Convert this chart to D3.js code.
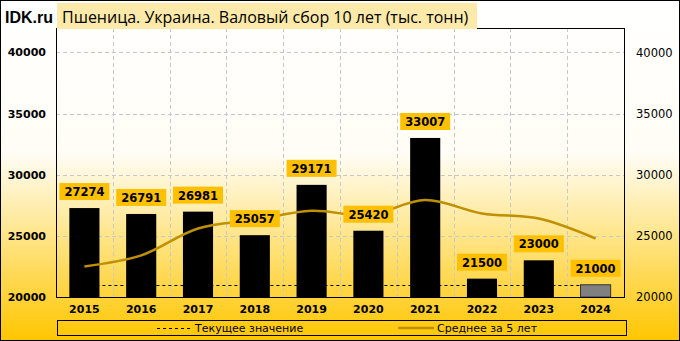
<!DOCTYPE html>
<html lang="ru">
<head>
<meta charset="UTF-8">
<title>Пшеница. Украина</title>
<style>
  body{ margin:0; }
  svg{ font-family: "DejaVu Sans", sans-serif; }
</style>
</head>
<body>
<svg id="chart" width="680" height="341"></svg>
<script src="https://cdn.jsdelivr.net/npm/d3@7"></script>
<script>
  "use strict";

  var years = ["2015","2016","2017","2018","2019","2020","2021","2022","2023","2024"];
  var harvest = [27274,26791,26981,25057,29171,25420,33007,21500,23000,21000];
  var avg5 = [22500,23400,25600,26300,27055,26684,27927,26831,26420,24785];
  var current = 21000;
  var yTicks = [20000,25000,30000,35000,40000];

  var W = 680, H = 341,
      pLeft = 56, pRight = 624, pTop = 28, pBottom = 297;

  var svg = d3.select("#chart");
  var defs = svg.append("defs");
  var grad = defs.append("linearGradient").attr("id","bg")
    .attr("x1",0).attr("y1",0).attr("x2",0).attr("y2",1);
  grad.append("stop").attr("offset","0%").attr("stop-color","#ffffff");
  grad.append("stop").attr("offset","45%").attr("stop-color","#fffdf5");
  grad.append("stop").attr("offset","100%").attr("stop-color","#ffc600");

  svg.append("rect").attr("x",0.5).attr("y",0.5).attr("width",W-1).attr("height",H-1)
    .attr("fill","url(#bg)").attr("stroke","#000");

  var x = d3.scaleBand().domain(years).range([pLeft,pRight]).paddingInner(0.47).paddingOuter(0.235);
  var xb = d3.scaleBand().domain(years).range([pLeft,pRight]);
  var y = d3.scaleLinear().domain([20000,42000]).range([pBottom,pTop]);

  // grid
  svg.append("g").selectAll("line").data(yTicks.slice(1)).enter().append("line")
    .attr("x1",pLeft).attr("x2",pRight)
    .attr("y1",function(d){ return Math.round(y(d))+0.5; })
    .attr("y2",function(d){ return Math.round(y(d))+0.5; })
    .attr("stroke","#c8c8c8").attr("stroke-dasharray","4,3");
  svg.append("g").selectAll("line").data(years.slice(1)).enter().append("line")
    .attr("x1",function(d){ return Math.round(xb(d))+0.5; })
    .attr("x2",function(d){ return Math.round(xb(d))+0.5; })
    .attr("y1",pTop).attr("y2",pBottom)
    .attr("stroke","#c8c8c8").attr("stroke-dasharray","4,3");

  // current value line (behind bars)
  svg.append("line")
    .attr("x1",xb(years[0])+xb.bandwidth()/2).attr("x2",xb(years[years.length-1])+xb.bandwidth()/2)
    .attr("y1",Math.round(y(current))+0.5).attr("y2",Math.round(y(current))+0.5)
    .attr("stroke","#000").attr("stroke-dasharray","3,3");

  // bars
  svg.append("g").selectAll("rect").data(harvest).enter().append("rect")
    .attr("x",function(d,i){ return x(years[i]); })
    .attr("y",function(d){ return y(d); })
    .attr("width",x.bandwidth())
    .attr("height",function(d){ return pBottom - y(d); })
    .attr("fill",function(d,i){ return i === years.length-1 ? "#808080" : "#000"; })
    .attr("stroke",function(d,i){ return i === years.length-1 ? "#333" : "none"; });

  // 5-year average
  var line = d3.line()
    .x(function(d,i){ return xb(years[i]) + xb.bandwidth()/2; })
    .y(function(d){ return y(d); })
    .curve(d3.curveCatmullRom);
  svg.append("path").datum(avg5).attr("d",line)
    .attr("fill","none").attr("stroke","#bf9000").attr("stroke-width",2.5);

  // value labels
  var lab = svg.append("g").selectAll("g").data(harvest).enter().append("g")
    .attr("transform",function(d,i){
      return "translate(" + (xb(years[i]) + xb.bandwidth()/2) + "," + (y(d) - 16) + ")";
    });
  lab.append("rect").attr("x",-25).attr("y",-9).attr("width",50).attr("height",17)
    .attr("fill","#ffc000");
  lab.append("text").attr("text-anchor","middle").attr("dy","0.36em")
    .attr("font-size",11.5).attr("font-weight","bold")
    .text(function(d){ return d; });

  // plot border
  svg.append("rect").attr("x",pLeft+0.5).attr("y",pTop+0.5)
    .attr("width",pRight-pLeft).attr("height",pBottom-pTop)
    .attr("fill","none").attr("stroke","#000");

  // axes
  svg.append("g").selectAll("text").data(yTicks).enter().append("text")
    .attr("x",46).attr("y",function(d){ return y(d); }).attr("dy","0.36em")
    .attr("text-anchor","end").attr("font-size",11).attr("font-weight","bold")
    .text(function(d){ return d; });
  svg.append("g").selectAll("text").data(yTicks).enter().append("text")
    .attr("x",636).attr("y",function(d){ return y(d); }).attr("dy","0.36em")
    .attr("font-size",11.5)
    .text(function(d){ return d; });
  svg.append("g").selectAll("text").data(years).enter().append("text")
    .attr("x",function(d){ return xb(d) + xb.bandwidth()/2; }).attr("y",309).attr("dy","0.36em")
    .attr("text-anchor","middle").attr("font-size",11).attr("font-weight","bold")
    .text(function(d){ return d; });

  // title
  svg.append("text").attr("x",5).attr("y",23)
    .style("font-family","'Liberation Sans', Arial, sans-serif")
    .attr("font-size",16).attr("font-weight","bold").text("IDK.ru");
  svg.append("rect").attr("x",57).attr("y",3).attr("width",420).attr("height",26).attr("fill","#fde9a9");
  svg.append("text").attr("x",62).attr("y",23)
    .style("font-family","'Open Sans', sans-serif").attr("font-size",16)
    .text("Пшеница. Украина. Валовый сбор 10 лет (тыс. тонн)");

  // legend
  svg.append("rect").attr("x",57.5).attr("y",320.5).attr("width",569).attr("height",15)
    .attr("fill","none").attr("stroke","#000");
  svg.append("line").attr("x1",157).attr("x2",190).attr("y1",328.5).attr("y2",328.5)
    .attr("stroke","#000").attr("stroke-dasharray","3,3");
  svg.append("text").attr("x",195).attr("y",328).attr("dy","0.36em").attr("font-size",11)
    .text("Текущее значение");
  svg.append("line").attr("x1",398).attr("x2",434).attr("y1",328).attr("y2",328)
    .attr("stroke","#bf9000").attr("stroke-width",2.5);
  svg.append("text").attr("x",437).attr("y",328).attr("dy","0.36em").attr("font-size",11)
    .text("Среднее за 5 лет");
</script>
</body>
</html>
